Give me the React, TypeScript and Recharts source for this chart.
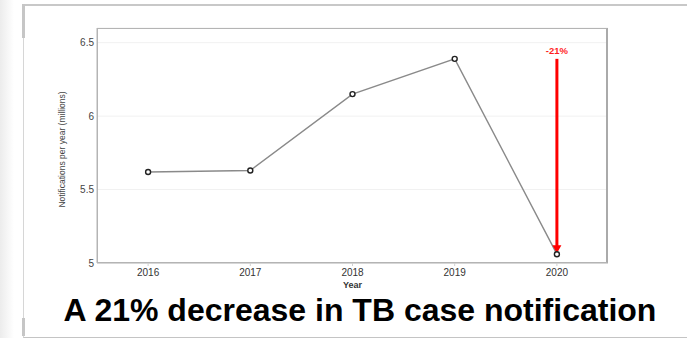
import React from 'react'
import { LineChart, Line, XAxis, YAxis, CartesianGrid, ReferenceLine } from 'recharts'

// TB notifications (millions)
const years = ['2016', '2017', '2018', '2019', '2020']
const notifications = [5.62, 5.63, 6.15, 6.39, 5.06]
const yTicks = [5, 5.5, 6, 6.5]
const yDomain = [5, 6.6]
const dropLabel = '-21%'
const yLabel = 'Notifications per year (millions)'
const xLabel = 'Year'
const title = 'A 21% decrease in TB case notification'

const W = 687
const H = 338
const margin = { top: 28, right: 79, bottom: 45, left: 0 }
const yAxisWidth = 97
const xAxisHeight = 30
const font = '"Liberation Sans", Arial, Helvetica, sans-serif'

const chartData = years.map((year, i) => ({ year, value: notifications[i] }))

const DropArrow = (p: any) => {
  const { x1, y1, x2, y2 } = p
  const head = 8
  const tip = y2 - 1
  return (
    <g>
      <line x1={x1} y1={y1} x2={x2} y2={tip - head + 1} stroke="#ff0000" strokeWidth={3} />
      <polygon points={`${x2 - 4.5},${tip - head} ${x2 + 4.5},${tip - head} ${x2},${tip}`} fill="#ff0000" />
      <text x={x1} y={y1 - 4.5} textAnchor="middle" fill="#ff1f1f" fontSize={9.5} fontWeight="bold" fontFamily={font}>
        {dropLabel}
      </text>
    </g>
  )
}

export default function App() {
  const plotLeft = margin.left + yAxisWidth
  const plotTop = margin.top
  const plotW = W - margin.left - margin.right - yAxisWidth
  const plotH = H - margin.top - margin.bottom - xAxisHeight
  const edgePad = plotW / years.length / 2

  return (
    <div style={{ position: 'absolute', left: 0, top: 0, width: W, height: H, background: '#fff', overflow: 'hidden', fontFamily: font }}>
      {/* slide edge + frame */}
      <div style={{ position: 'absolute', left: 0, top: 0, width: 14, height: H, background: 'linear-gradient(to right, #ececec, #ffffff)' }} />
      <div style={{ position: 'absolute', left: 23, top: 4, width: W, height: 331, borderTop: '2px solid #c8c8c8', borderLeft: '1px solid #d6d6d6', borderBottom: '1px solid #c4c4c4' }} />
      <div style={{ position: 'absolute', left: 22, top: 4, width: 3, height: 34, background: '#c6c6c6' }} />
      <div style={{ position: 'absolute', left: 22, top: 318, width: 3, height: 18, background: '#c6c6c6' }} />

      <div style={{ position: 'absolute', left: 0, top: 0 }}>
        <LineChart width={W} height={H} data={chartData} margin={margin}>
          <CartesianGrid vertical={false} stroke="#f1f1f1" />
          <XAxis
            dataKey="year"
            height={xAxisHeight}
            padding={{ left: edgePad, right: edgePad }}
            axisLine={{ stroke: '#b4b4b4' }}
            tickLine={{ stroke: '#d0d0d0' }}
            tickSize={3}
            tickMargin={3}
            tick={{ fontSize: 10, fill: '#333', fontFamily: font }}
            label={{
              content: ({ viewBox }: any) => (
                <text x={viewBox.x + viewBox.width / 2} y={viewBox.y + 25} textAnchor="middle" fontSize={9} fontWeight="bold" fill="#333" fontFamily={font}>
                  {xLabel}
                </text>
              ),
            }}
          />
          <YAxis
            width={yAxisWidth}
            domain={yDomain}
            ticks={yTicks}
            axisLine={{ stroke: '#b4b4b4' }}
            tickLine={false}
            tickSize={0}
            tickMargin={3}
            tick={{ fontSize: 10, fill: '#444', fontFamily: font }}
            label={{
              content: ({ viewBox }: any) => {
                const cy = viewBox.y + viewBox.height / 2 + 4
                return (
                  <text x={62} y={cy} transform={`rotate(-90 62 ${cy})`} textAnchor="middle" dominantBaseline="central" fontSize={8.5} fill="#444" fontFamily={font}>
                    {yLabel}
                  </text>
                )
              },
            }}
          />
          <Line
            type="linear"
            dataKey="value"
            stroke="#8a8a8a"
            strokeWidth={1.4}
            dot={{ r: 2.5, stroke: '#222', strokeWidth: 1.4, fill: '#fff' }}
            activeDot={false}
            isAnimationActive={false}
          />
          <ReferenceLine
            segment={[
              { x: years[4], y: notifications[3] },
              { x: years[4], y: notifications[4] },
            ]}
            shape={DropArrow}
          />
        </LineChart>
      </div>

      {/* plot frame */}
      <div style={{ position: 'absolute', left: plotLeft, top: plotTop, width: plotW, height: plotH, boxSizing: 'border-box', border: '1px solid #b4b4b4', borderRight: '2px solid #aaa', pointerEvents: 'none' }} />

      <div style={{ position: 'absolute', left: 0, top: 294, width: 720, textAlign: 'center', fontSize: 32, lineHeight: '32px', fontWeight: 'bold', color: '#000' }}>
        {title}
      </div>
    </div>
  )
}
